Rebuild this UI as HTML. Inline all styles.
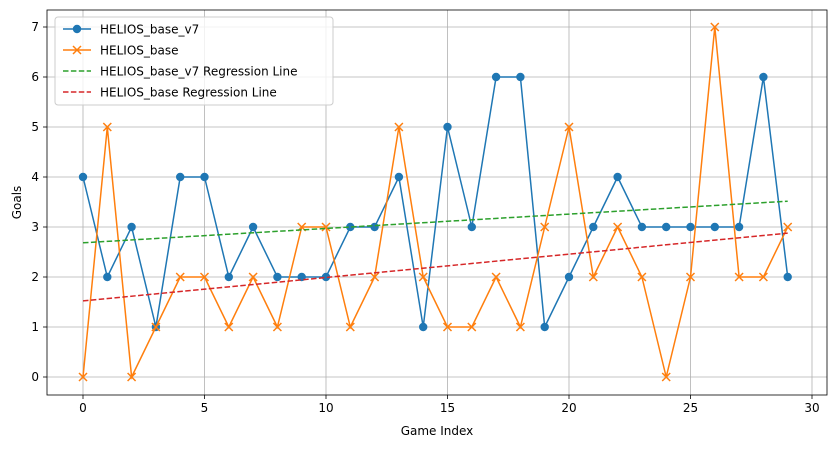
<!DOCTYPE html>
<html><head><meta charset="utf-8"><style>
body{margin:0;background:#fff;}
svg text{font-family:"DejaVu Sans","Liberation Sans",sans-serif;}
</style></head><body>
<svg id="chart" width="833" height="448" xmlns="http://www.w3.org/2000/svg"></svg>
<script>
const games = Array.from({length:30},(_,i)=>i);
const v7Goals = [4,2,3,1,4,4,2,3,2,2,2,3,3,4,1,5,3,6,6,1,2,3,4,3,3,3,3,3,6,2];
const baseGoals = [0,5,0,1,2,2,1,2,1,3,3,1,2,5,2,1,1,2,1,3,5,2,3,2,0,2,7,2,2,3];
const xTicks = [0,5,10,15,20,25,30];
const yTicks = [0,1,2,3,4,5,6,7];
const seriesNames = ["HELIOS_base_v7","HELIOS_base","HELIOS_base_v7 Regression Line","HELIOS_base Regression Line"];

const NS="http://www.w3.org/2000/svg";
const svg=document.getElementById('chart');
const L=47,R=827,T=10,B=395;
const X=v=>83+(v-0)*(812-83)/30;
const Y=v=>377-v*50;
function el(tag,attrs,parent){const e=document.createElementNS(NS,tag);for(const k in attrs)e.setAttribute(k,attrs[k]);(parent||svg).appendChild(e);return e;}
// grid & ticks
xTicks.forEach(t=>{
  const g=el('line',{x1:X(t),x2:X(t),y1:T,y2:B,stroke:'#b0b0b0','stroke-width':0.8});
  
  
  el('line',{x1:X(t),x2:X(t),y1:B,y2:B+4,stroke:'#000','stroke-width':0.8});
  const tx=el('text',{x:X(t),y:B+17,'text-anchor':'middle','font-size':12});
  tx.textContent=t;
  
  
});
yTicks.forEach(t=>{
  const g=el('line',{x1:L,x2:R,y1:Y(t),y2:Y(t),stroke:'#b0b0b0','stroke-width':0.8});
  
  
  el('line',{x1:L-4,x2:L,y1:Y(t),y2:Y(t),stroke:'#000','stroke-width':0.8});
  const tx=el('text',{x:L-8,y:Y(t)+4,'text-anchor':'end','font-size':12});
  tx.textContent=t;
  
  
});
function fit(ys){const n=ys.length;let sx=0,sy=0,sxy=0,sxx=0;games.forEach((x,i)=>{sx+=x;sy+=ys[i];sxy+=x*ys[i];sxx+=x*x;});const m=(n*sxy-sx*sy)/(n*sxx-sx*sx);return [m,(sy-m*sx)/n];}
function series(ys,color,marker,name){
  const p=el('polyline',{points:games.map((x,i)=>X(x)+','+Y(ys[i])).join(' '),fill:'none',stroke:color,'stroke-width':1.5});
  
  
  games.forEach((x,i)=>{
    let m;
    if(marker==='o'){m=el('circle',{cx:X(x),cy:Y(ys[i]),r:4.2,fill:color});}
    else{const cx=X(x),cy=Y(ys[i]),d=4;m=el('path',{d:`M${cx-d},${cy-d}L${cx+d},${cy+d}M${cx-d},${cy+d}L${cx+d},${cy-d}`,stroke:color,'stroke-width':1.5});}
    
    
  });
}
function reg(ys,color,name){const [m,b]=fit(ys);const l=el('line',{x1:X(0),y1:Y(b),x2:X(29),y2:Y(b+m*29),stroke:color,'stroke-width':1.5,'stroke-dasharray':'5.5,2.4'});
  
  }
series(v7Goals,'#1f77b4','o','helios-base-v7');
series(baseGoals,'#ff7f0e','x','helios-base');
reg(v7Goals,'#2ca02c','v7-regression-line');
reg(baseGoals,'#d62728','base-regression-line');
const frame=el('rect',{x:L,y:T,width:R-L,height:B-T,fill:'none',stroke:'#000','stroke-width':0.8});


const xl=el('text',{x:(L+R)/2,y:435,'text-anchor':'middle','font-size':12});xl.textContent='Game Index';


const yl=el('text',{x:21,y:(T+B)/2,'text-anchor':'middle','font-size':12,transform:`rotate(-90 21 ${(T+B)/2})`});yl.textContent='Goals';


// legend
const lg=el('g',{});


el('rect',{x:55,y:17,width:278,height:88,rx:3,fill:'#fff','fill-opacity':0.8,stroke:'#ccc'},lg);
const cols=['#1f77b4','#ff7f0e','#2ca02c','#d62728'];
seriesNames.forEach((n,i)=>{
  const y=29+i*21;
  el('line',{x1:63,x2:91,y1:y,y2:y,stroke:cols[i],'stroke-width':1.5,'stroke-dasharray':i>1?'5.5,2.4':'none'},lg);
  if(i===0)el('circle',{cx:77,cy:y,r:4.2,fill:cols[0]},lg);
  if(i===1)el('path',{d:`M73,${y-4}L81,${y+4}M73,${y+4}L81,${y-4}`,stroke:cols[1],'stroke-width':1.5},lg);
  const t=el('text',{x:100,y:y+4.5,'font-size':12},lg);t.textContent=n;
  
  
});
</script>
</body></html>
